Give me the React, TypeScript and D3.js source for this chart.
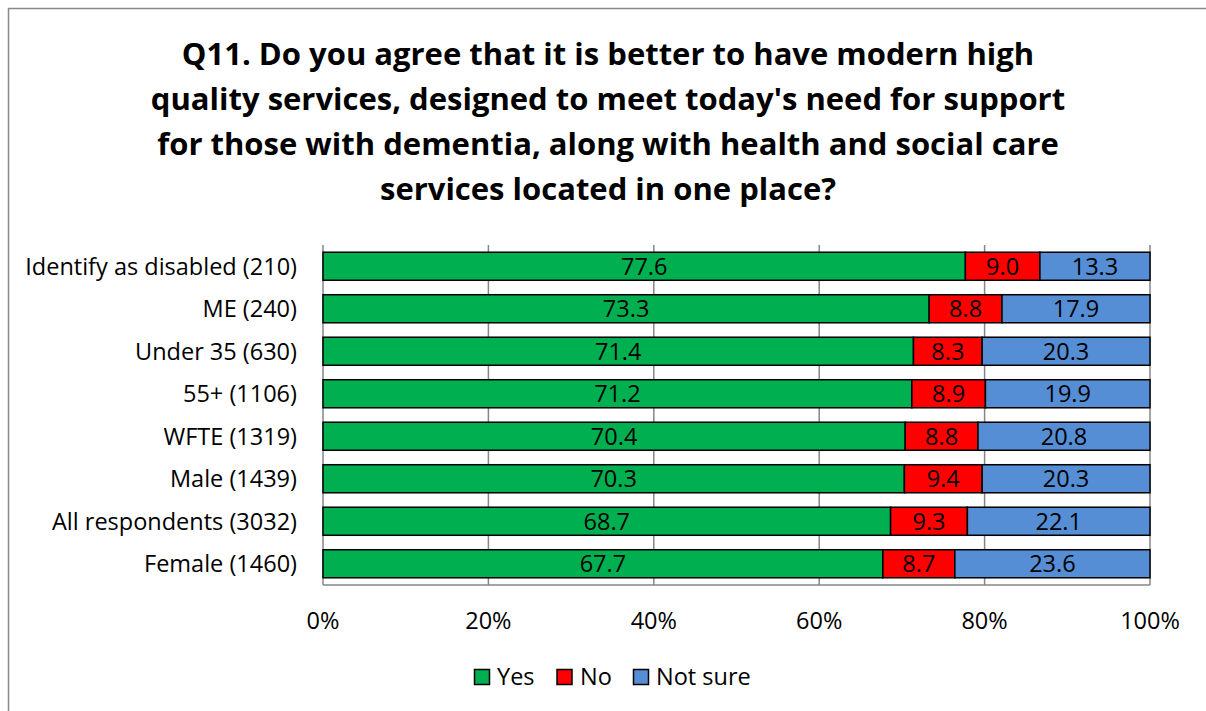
import React from "react";
import * as d3 from "d3";

const categories = [
  "Identify as disabled (210)",
  "ME (240)",
  "Under 35 (630)",
  "55+ (1106)",
  "WFTE (1319)",
  "Male (1439)",
  "All respondents (3032)",
  "Female (1460)",
];
const yesValues = [77.6, 73.3, 71.4, 71.2, 70.4, 70.3, 68.7, 67.7];
const noValues = [9.0, 8.8, 8.3, 8.9, 8.8, 9.4, 9.3, 8.7];
const notSureValues = [13.3, 17.9, 20.3, 19.9, 20.8, 20.3, 22.1, 23.6];
const seriesNames = ["Yes", "No", "Not sure"];
const seriesColors = ["#00B050", "#FF0000", "#558ED5"];
const tickValues = [0, 0.2, 0.4, 0.6, 0.8, 1.0];
const titleLines = [
  "Q11. Do you agree that it is better to have modern high",
  "quality services, designed to meet today's need for support",
  "for those with dementia, along with health and social care",
  "services located in one place?",
];

const FONT = "'Open Sans', sans-serif";

export default function App() {
  const W = 1206;
  const H = 711;
  const x0 = 323;
  const x1 = 1150;
  const yTop = 245;
  const yBot = 585;
  const FS = 23.5;

  const rows = categories.map((c, i) => ({
    cat: c,
    Yes: yesValues[i],
    No: noValues[i],
    "Not sure": notSureValues[i],
  }));
  const stack = d3
    .stack<any>()
    .keys(seriesNames)
    .offset(d3.stackOffsetExpand);
  const stacked = stack(rows);

  const x = d3.scaleLinear().domain([0, 1]).range([x0, x1]);
  const y = d3
    .scaleBand()
    .domain(categories)
    .range([yTop, yBot])
    .paddingInner(0.34)
    .paddingOuter(0.17);

  const legendItems = [
    { name: "Yes", x: 474.5, tx: 497 },
    { name: "No", x: 557, tx: 580 },
    { name: "Not sure", x: 633.5, tx: 656 },
  ];

  return (
    <svg
      width={W}
      height={H}
      style={{ position: "absolute", left: 0, top: 0, background: "#fff" }}
      fontFamily={FONT}
    >
      <rect x={0} y={0} width={W} height={H} fill="#fff" />
      <rect
        x={8.5}
        y={8.5}
        width={1210}
        height={720}
        fill="none"
        stroke="#898989"
        strokeWidth={1.5}
      />
      {titleLines.map((t, i) => (
        <text
          key={i}
          x={608}
          y={65 + i * 45}
          textAnchor="middle"
          fontSize={31}
          fontWeight="bold"
          fill="#000"
        >
          {t}
        </text>
      ))}
      {/* gridlines */}
      {tickValues.map((t, i) => (
        <line
          key={i}
          x1={x(t)}
          x2={x(t)}
          y1={yTop}
          y2={yBot}
          stroke="#868686"
          strokeWidth={1.5}
        />
      ))}
      <line x1={x0} x2={x1} y1={yBot} y2={yBot} stroke="#868686" strokeWidth={1.5} />
      {/* bars */}
      {stacked.map((s, si) =>
        s.map((d, di) => (
          <rect
            key={`${si}-${di}`}
            x={x(d[0])}
            y={y(categories[di])!}
            width={x(d[1]) - x(d[0])}
            height={y.bandwidth()}
            fill={seriesColors[si]}
            stroke="#000"
            strokeWidth={1.5}
          />
        ))
      )}
      {/* bar labels */}
      {stacked.map((s, si) =>
        s.map((d, di) => {
          const vals = [yesValues, noValues, notSureValues][si];
          return (
            <text
              key={`l-${si}-${di}`}
              x={(x(d[0]) + x(d[1])) / 2}
              y={y(categories[di])! + y.bandwidth() / 2 + 8.5}
              textAnchor="middle"
              fontSize={FS}
              fill="#000"
            >
              {vals[di].toFixed(1)}
            </text>
          );
        })
      )}
      {/* category labels */}
      {categories.map((c) => (
        <text
          key={c}
          x={297}
          y={y(c)! + y.bandwidth() / 2 + 8.5}
          textAnchor="end"
          fontSize={FS}
          fill="#000"
        >
          {c}
        </text>
      ))}
      {/* x tick labels */}
      {tickValues.map((t, i) => (
        <text
          key={i}
          x={x(t)}
          y={629}
          textAnchor="middle"
          fontSize={FS}
          fill="#000"
        >
          {d3.format(".0%")(t)}
        </text>
      ))}
      {/* legend */}
      {legendItems.map((l, i) => (
        <g key={l.name}>
          <rect
            x={l.x}
            y={669.5}
            width={15}
            height={15}
            fill={seriesColors[i]}
            stroke="#000"
            strokeWidth={1.5}
          />
          <text x={l.tx} y={685} fontSize={FS} fill="#000">
            {l.name}
          </text>
        </g>
      ))}
    </svg>
  );
}
